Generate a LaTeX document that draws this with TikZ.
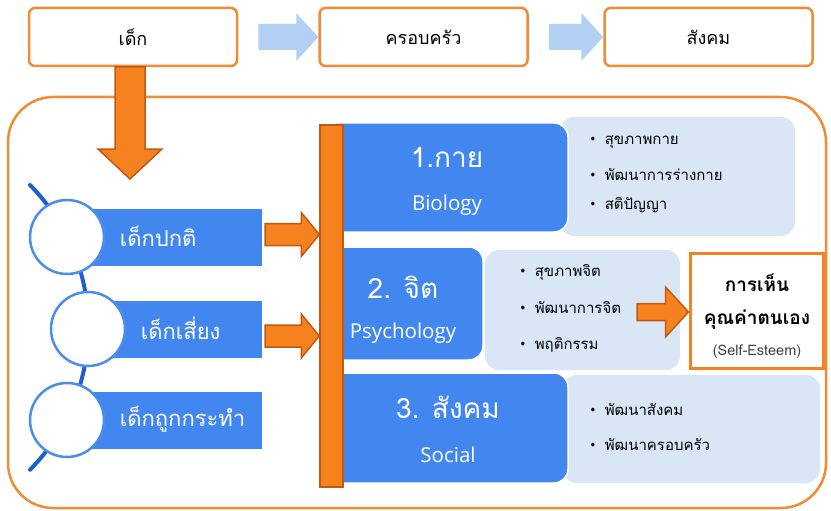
\documentclass[tikz,border=0pt]{standalone}
\usepackage{fontspec}
\setmainfont{Open Sans}
\newfontfamily\thai[Script=Thai]{Loma}
\usetikzlibrary{calc}
\definecolor{ofill}{HTML}{F5821F}
\definecolor{oline}{HTML}{C05A12}
\definecolor{oframe}{HTML}{F28A36}
\definecolor{bblue}{HTML}{4287F0}
\definecolor{lblue}{HTML}{D8E6F6}
\definecolor{dblue}{HTML}{1F5FCB}
\definecolor{cblue}{HTML}{4A8EE8}
\definecolor{chev}{HTML}{B2D0F2}
\newcommand{\hblock}[6]{\path[#6] let \p1=(#1), \p2=(#2) in (\x1,\y1+#3) -- (\x2-#5,\y1+#3) -- (\x2-#5,\y1+#4) -- (\x2,\y1) -- (\x2-#5,\y1-#4) -- (\x2-#5,\y1-#3) -- (\x1,\y1-#3) -- cycle;}
\newcommand{\bt}{{\rmfamily\textbullet}\hspace{9pt}}
\begin{document}
\begin{tikzpicture}[x=1pt,y=-1pt,
  topbox/.style={draw=oframe, line width=2.5pt, rounded corners=6pt, fill=white, minimum width=208pt, minimum height=58pt, font=\thai\fontsize{18}{20}\selectfont},
  oarrow/.style={fill=ofill, draw=oline, line width=1.5pt, line join=miter},
  carrow/.style={fill=chev},
  brect/.style={fill=bblue, inner sep=0pt, minimum width=187pt, minimum height=57pt},
  circ/.style={circle, fill=white, draw=cblue, line width=2.5pt, minimum size=74pt, inner sep=0pt},
  ltext/.style={anchor=west, text=white, font=\thai\fontsize{22}{24}\selectfont},
  lbox/.style={fill=lblue, rounded corners=14pt, inner sep=0pt},
  bbox/.style={fill=bblue, draw=white, line width=1.5pt, rounded corners=14pt, inner sep=0pt},
  ttl/.style={text=white, font=\thai\fontsize{28}{30}\selectfont},
  subt/.style={text=white, font=\fontsize{20.5}{22}\selectfont},
  bul/.style={anchor=west, inner sep=0pt, font=\thai\fontsize{15}{17}\selectfont},
  estx/.style={font=\thai\bfseries\fontsize{19}{21}\selectfont}
]
\useasboundingbox (0,0) rectangle (831,511);
% frame
\node[draw=oframe, line width=2.5pt, rounded corners=45pt, minimum width=818pt, minimum height=411pt, inner sep=0pt] (frame) at (417,302.5) {};
% top row
\node[topbox] (t1) at (133,37) {เด็ก};
\node[topbox] (t2) at (423.5,37) {ครอบครัว};
\node[topbox] (t3) at (708.5,37) {สังคม};
\coordinate (c1s) at ($(t1.east)+(20,0)$);
\coordinate (c2s) at ($(t2.east)+(20,0)$);
\hblock{c1s}{t2.west}{13}{24}{22}{carrow}
\hblock{c2s}{t3.west}{13}{24}{22}{carrow}
% down arrow
\coordinate (dtop) at (130,67);
\coordinate (dtip) at (130,179);
\draw[oarrow] let \p1=(dtop), \p2=(dtip) in (\x1-15,\y1) -- (\x1-15,\y2+30) -- (\x1-32,\y2+30) -- (\x2,\y2) -- (\x1+32,\y2+30) -- (\x1+15,\y2+30) -- (\x1+15,\y1) -- cycle;
% left arc
\draw[dblue, line width=4pt, line cap=round] (30,185) arc[start angle=-44.6, end angle=44.6, radius=202.8];
% rects
\node[brect] (r1) at (168.5,237.5) {};
\node[brect] (r2) at (168.5,329) {};
\node[brect] (r3) at (168.5,420) {};
\node[circ] (c1) at (67,237) {};
\node[circ] (c2) at (88,329) {};
\node[circ] (c3) at (67,420) {};
\node[ltext] (l1) at ($(c1.east)+(11,-1)$) {เด็กปกติ};
\node[ltext] (l2) at ($(c2.east)+(11,-1)$) {เด็กเสี่ยง};
\node[ltext] (l3) at ($(c3.east)+(11,-1)$) {เด็กถูกกระทำ};
% category boxes
\node[lbox, minimum width=235pt, minimum height=119pt] (L1) at (677.5,176.5) {};
\node[bbox, minimum width=246pt, minimum height=109pt] (B1) at (445,177.5) {};
\node[lbox, minimum width=195pt, minimum height=120pt] (L2) at (582.5,310) {};
\node[bbox, minimum width=161pt, minimum height=113pt] (B2) at (402.5,303.5) {};
\node[lbox, minimum width=257pt, minimum height=108pt] (L3) at (691.5,429) {};
\node[bbox, minimum width=246pt, minimum height=110pt] (B3) at (445,428) {};
% bar
\node[draw=oline, fill=ofill, line width=1.5pt, minimum width=23pt, minimum height=362pt, inner sep=0pt] (bar) at (331.5,306) {};
% arrows into bar
\coordinate (a1s) at ($(r1.east)+(3,-3)$);
\coordinate (a2s) at ($(r2.east)+(3,7)$);
\hblock{a1s}{bar.west}{11}{22}{18}{oarrow}
\hblock{a2s}{bar.west}{11}{22}{18}{oarrow}
% titles
\node[ttl] (h1) at (447,157) {1.กาย};
\node[subt] (s1) at (447,205) {Biology};
\node[ttl] (h2) at (403,287) {2. จิต};
\node[subt] (s2) at (403,333) {Psychology};
\node[ttl] (h3) at (448,407) {3. สังคม};
\node[subt] (s3) at (448,455) {Social};
% bullets
\node[bul] (b11) at (590,142) {\bt สุขภาพกาย};
\node[bul] (b12) at (590,175) {\bt พัฒนาการร่างกาย};
\node[bul] (b13) at (590,205) {\bt สติปัญญา};
\node[bul] (b21) at (520,272) {\bt สุขภาพจิต};
\node[bul] (b22) at (520,308) {\bt พัฒนาการจิต};
\node[bul] (b23) at (520,345) {\bt พฤติกรรม};
\node[bul] (b31) at (590,410) {\bt พัฒนาสังคม};
\node[bul] (b32) at (590,445) {\bt พัฒนาครอบครัว};
% self-esteem
\node[draw=ofill, line width=3pt, fill=white, minimum width=133pt, minimum height=115pt, inner sep=0pt] (se) at (756.5,310.5) {};
\node[estx] (e1) at (757,283) {การเห็น};
\node[estx] (e2) at (757,320) {คุณค่าตนเอง};
\node[font=\thai\fontsize{14.5}{16}\selectfont, text=black!75] (e3) at (757,352) {(Self-Esteem)};
\coordinate (a3s) at (637,312);
\hblock{a3s}{se.west}{8.5}{25}{23}{oarrow}
\end{tikzpicture}
\end{document}
